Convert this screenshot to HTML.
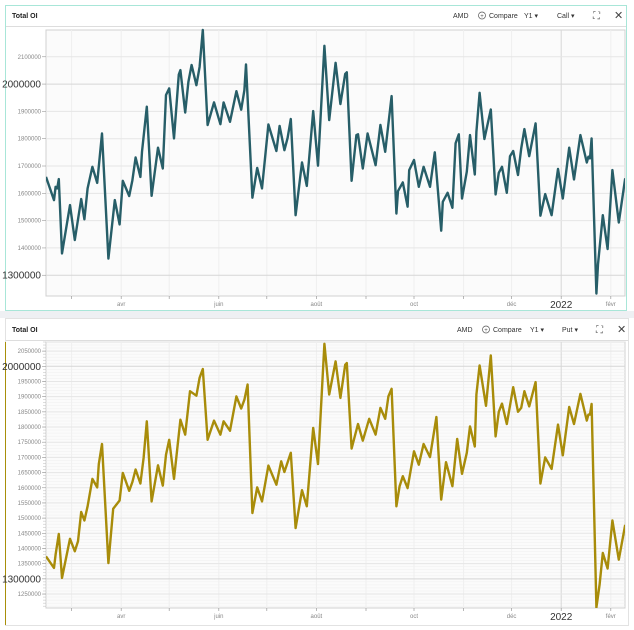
<!DOCTYPE html>
<html><head><meta charset="utf-8"><style>
html,body{margin:0;padding:0;background:#fff;width:634px;height:630px;overflow:hidden;font-family:"Liberation Sans",sans-serif}
svg text{font-family:"Liberation Sans",sans-serif}
</style></head><body>
<svg id="c" width="634" height="630" viewBox="0 0 634 630" xmlns="http://www.w3.org/2000/svg">
<rect x="0" y="311" width="634" height="7" fill="#eef0f3"/>
<g>
<rect x="5.5" y="5.5" width="621" height="305" fill="#fff" stroke="#a8e6d8"/>
<line x1="6" y1="26.5" x2="626" y2="26.5" stroke="#ddd"/>
<text x="12" y="18" font-size="7" font-weight="bold" fill="#222">Total OI</text>
<text x="453" y="18" font-size="7" fill="#333">AMD</text>
<circle cx="482" cy="15.5" r="3.5" fill="none" stroke="#555" stroke-width="0.7"/>
<text x="482" y="17.8" font-size="6" fill="#555" text-anchor="middle">+</text>
<text x="489" y="18" font-size="7" fill="#333">Compare</text>
<text x="524" y="18" font-size="7" fill="#333">Y1 ▾</text>
<text x="557" y="18" font-size="7" fill="#333">Call ▾</text>
<text x="593" y="19" font-size="10" fill="#555">⛶</text>
<text x="614" y="19" font-size="11" fill="#444">✕</text>
</g>
<g>
<rect x="5.5" y="318.5" width="623" height="307" fill="#fff" stroke="#e2e2e2"/>
<line x1="6" y1="340.5" x2="628" y2="340.5" stroke="#ddd"/>
<line x1="5.5" y1="342" x2="5.5" y2="625" stroke="#a88f0a"/>
<text x="12" y="332" font-size="7" font-weight="bold" fill="#222">Total OI</text>
<text x="457" y="332" font-size="7" fill="#333">AMD</text>
<circle cx="486" cy="329.5" r="3.5" fill="none" stroke="#555" stroke-width="0.7"/>
<text x="486" y="331.8" font-size="6" fill="#555" text-anchor="middle">+</text>
<text x="493" y="332" font-size="7" fill="#333">Compare</text>
<text x="530" y="332" font-size="7" fill="#333">Y1 ▾</text>
<text x="562" y="332" font-size="7" fill="#333">Put ▾</text>
<text x="596" y="333" font-size="10" fill="#555">⛶</text>
<text x="617" y="333" font-size="11" fill="#444">✕</text>
</g>
</svg>
<script>
const callDays=[0,5,6,7,8,10,15,18,22,24,26,29,32,35,39,43,46,48,52,54,56,59,60,63,66,70,73,75,77,80,83,84,87,89,91,94,96,98,101,105,109,111,115,119,122,124,125,129,132,135,139,144,146,149,151,153,156,160,163,167,170,174,177,181,184,187,188,191,194,195,198,201,206,209,212,216,219,220,223,226,227,230,233,236,240,243,247,248,251,254,256,258,260,263,265,268,269,271,274,278,281,283,285,288,290,292,295,297,299,302,306,309,312,316,320,323,327,330,334,338,339,340,341,344,345,348,351,354,358,362];
const callValues=[1660,1575,1624,1618,1652,1380,1557,1429,1579,1505,1618,1697,1638,1819,1361,1575,1486,1646,1590,1648,1731,1660,1752,1917,1591,1767,1691,1960,1984,1801,2035,2051,1896,2008,2070,1996,2063,2198,1850,1933,1853,1933,1862,1974,1906,1978,2072,1584,1693,1618,1852,1755,1847,1758,1803,1872,1520,1713,1627,1901,1701,2140,1868,2078,1927,2037,2043,1646,1813,1816,1691,1819,1703,1850,1752,1956,1526,1608,1640,1551,1685,1722,1624,1697,1624,1750,1463,1569,1602,1547,1783,1816,1581,1679,1813,1669,1825,1968,1799,1907,1596,1675,1697,1602,1736,1755,1667,1764,1835,1736,1856,1518,1597,1520,1689,1581,1767,1651,1813,1713,1734,1728,1801,1233,1340,1520,1396,1685,1493,1655];
const putDays=[0,5,6,8,10,15,18,20,22,24,26,29,32,33,35,39,42,46,48,52,54,56,59,61,63,66,70,73,75,77,80,84,87,90,94,96,98,101,105,109,111,115,119,122,124,126,129,132,135,139,144,147,149,153,156,160,163,167,170,174,177,181,184,187,188,191,195,198,202,206,209,212,214,216,219,221,223,226,230,233,236,240,244,247,250,254,257,260,263,265,268,269,271,275,278,281,283,285,288,292,295,297,299,302,306,309,312,316,320,323,327,330,334,338,339,340,341,344,346,348,351,354,358,362];
const putValues=[1374,1336,1380,1448,1303,1432,1391,1424,1520,1492,1539,1629,1601,1678,1744,1352,1531,1558,1649,1590,1619,1660,1614,1698,1819,1555,1674,1607,1709,1758,1629,1824,1775,1918,1903,1962,1991,1758,1821,1775,1819,1788,1901,1861,1890,1940,1517,1601,1555,1673,1610,1687,1652,1715,1467,1592,1539,1797,1678,2074,1907,2016,1896,2005,2011,1729,1810,1755,1827,1775,1863,1827,1901,1926,1539,1605,1638,1599,1720,1676,1744,1701,1833,1561,1684,1605,1761,1646,1715,1802,1736,1907,2003,1870,2036,1769,1850,1877,1810,1931,1850,1863,1918,1868,1948,1614,1700,1662,1808,1707,1866,1810,1909,1821,1841,1841,1876,1206,1281,1385,1334,1492,1363,1478];
const callTicks=[1300,1400,1500,1600,1700,1800,1900,2000,2100];
const putTicks=[1250,1300,1350,1400,1450,1500,1550,1600,1650,1700,1750,1800,1850,1900,1950,2000,2050];
const monthLabels=["avr","juin","août","oct","déc","2022","févr"];
const monthLabelDays=[47,108,169,230,291,322,353];
const monthTickDays=[16,47,77,108,138,169,200,230,261,291,322,353];

const NS="http://www.w3.org/2000/svg";
const svg=document.getElementById('c');
function mk(tag,attrs,parent){const e=document.createElementNS(NS,tag);for(const k in attrs)e.setAttribute(k,attrs[k]);(parent||svg).appendChild(e);return e;}
const X0=46,X1=625,DPX=1.6;
function xs(d){return X0+d*DPX;}

function drawPanel(p){
  const ys=v=>p.top+(p.vmax-v)/(p.vmax-p.vmin)*(p.bot-p.top);
  const g=mk('g',{});
  
  
  const bg=mk('rect',{x:X0,y:p.top,width:X1-X0,height:p.bot-p.top,fill:'#fbfbfb',stroke:'#d0d0d0','stroke-width':1},g);
  
  
  if(p.minor){
    for(let v=Math.ceil(p.vmin/10)*10;v<=p.vmax;v+=10){
      const y=ys(v);
      mk('line',{x1:X0,x2:X1,y1:y,y2:y,stroke:'#efefef','stroke-width':0.5},g);
      mk('line',{x1:X0-3,x2:X0,y1:y,y2:y,stroke:'#bbb','stroke-width':0.5},g);
    }
  }
  monthTickDays.forEach(d=>{
    const x=xs(d);
    const gl=mk('line',{x1:x,x2:x,y1:p.top,y2:p.bot,stroke:d===322?'#d8d8d8':'#efefef','stroke-width':1},g);
    
    
    mk('line',{x1:x,x2:x,y1:p.bot,y2:p.bot+3,stroke:'#999','stroke-width':0.7},g);
  });
  p.ticks.forEach(v=>{
    const y=ys(v);
    const big=(v===2000||v===1300);
    const gl=mk('line',{x1:X0,x2:X1,y1:y,y2:y,stroke:big?'#d6d6d6':'#e6e6e6','stroke-width':1},g);
    
    
    mk('line',{x1:X0-4,x2:X0,y1:y,y2:y,stroke:'#999','stroke-width':0.6},g);
    const t=mk('text',{x:X0-5,y:y+(big?3.5:2),'text-anchor':'end','font-size':big?10:6,fill:big?'#333':'#888'},g);
    t.textContent=String(v*1000);
    
    
  });
  monthLabels.forEach((m,i)=>{
    const big=m==='2022';
    const t=mk('text',{x:xs(monthLabelDays[i]),y:p.bot+(big?12:10),'text-anchor':'middle','font-size':big?10:6,fill:big?'#333':'#888'},g);
    t.textContent=m;
    
    
  });
  const cp=mk('clipPath',{id:'clip-'+p.name},g);
  mk('rect',{x:X0,y:p.top-2,width:X1-X0,height:p.bot-p.top+2},cp);
  const pts=p.days.map((d,i)=>xs(d).toFixed(1)+','+ys(p.values[i]).toFixed(1)).join(' ');
  const line=mk('polyline',{points:pts,fill:'none',stroke:p.color,'stroke-width':2.4,'stroke-linejoin':'round','clip-path':'url(#clip-'+p.name+')'},g);
  
  
}
drawPanel({name:'call',top:30,bot:296,vmin:1224,vmax:2198,ticks:callTicks,days:callDays,values:callValues,color:'#275e68',minor:false});
drawPanel({name:'put',top:342,bot:608,vmin:1204,vmax:2080,ticks:putTicks,days:putDays,values:putValues,color:'#a88c0a',minor:true});
</script>
</body></html>
